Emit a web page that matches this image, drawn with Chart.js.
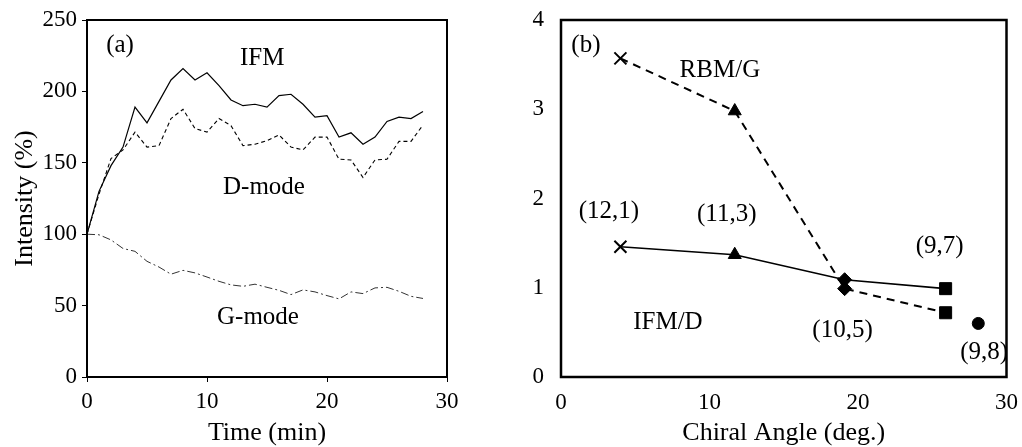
<!DOCTYPE html>
<html>
<head>
<meta charset="utf-8">
<script src="https://cdn.jsdelivr.net/npm/chart.js@4"></script>
<style>
  body { margin: 0; background: #fff; }
  #wrap { position: relative; width: 1022px; height: 447px; }
  canvas { position: absolute; top: 0; }
</style>
</head>
<body>
<div id="wrap">
  <canvas id="left" width="511" height="447" style="left:0"></canvas>
  <canvas id="right" width="511" height="447" style="left:511px"></canvas>
</div>
<script>
// panel (a): intensity vs time
const time = [0,1,2,3,4,5,6,7,8,9,10,11,12,13,14,15,16,17,18,19,20,21,22,23,24,25,26,27,28];
const ifm = [100,130,148,161,189,178,193,208,216,208,213,204,194,190,191,189,197,198,191,182,183,168,171,163,168,179,182,181,186];
const dMode = [100,128,153,159,171.5,161,162,181,187.5,174,171.5,181,176,162,163,165.5,169.5,161,159,168,168,152.5,152,139.7,152,152.5,165,165,176.5];
const gMode = [100,99.6,96,90,88,81,77,72,74.7,72.9,70,67,64.5,63.5,65,62.8,60.7,57.7,61,59.6,57,54.7,59.6,58.4,62.4,62.8,60,56.5,55];
const timeTicks = [0,10,20,30];
const intensityTicks = [0,50,100,150,200,250];

// panel (b): ratios vs chiral angle
const chiralAngle = [4.0,11.7,19.1,25.9];
const ifmD = [1.46,1.37,1.09,0.99];
const rbmG = [3.57,2.98,0.99,0.72];
const markers = ["crossRot","triangle","rectRot","rect"];
const extraAngle = [28.1];
const extraValue = [0.6];
const angleTicks = [0,10,20,30];
const ratioTicks = [0,1,2,3,4];

const notesA = [
  { text: "(a)", x: 2.75, y: 232 },
  { text: "IFM", x: 14.6, y: 223 },
  { text: "D-mode", x: 14.75, y: 133 },
  { text: "G-mode", x: 14.25, y: 41.6 },
];
const notesB = [
  { text: "(b)", x: 1.68, y: 3.72 },
  { text: "RBM/G", x: 10.7, y: 3.44 },
  { text: "(12,1)", x: 3.23, y: 1.85 },
  { text: "(11,3)", x: 11.16, y: 1.82 },
  { text: "IFM/D", x: 7.2, y: 0.61 },
  { text: "(9,7)", x: 25.5, y: 1.46 },
  { text: "(10,5)", x: 18.96, y: 0.52 },
  { text: "(9,8)", x: 28.5, y: 0.28 },
];

const FONT = "'Liberation Serif', 'Times New Roman', serif";
Chart.defaults.font.family = FONT;
Chart.defaults.color = "#000";

// draws frame around plot + text notes in data coords
const framePlugin = {
  id: "frame",
  afterDraw(chart, args, opts) {
    const { ctx, chartArea: a, scales } = chart;
    ctx.save();
    ctx.strokeStyle = "#000";
    ctx.lineWidth = opts.lineWidth || 2;
    ctx.strokeRect(a.left, a.top, a.right - a.left, a.bottom - a.top);
    ctx.fillStyle = "#000";
    ctx.font = "25px " + FONT;
    ctx.textAlign = "center";
    ctx.textBaseline = "middle";
    (opts.notes || []).forEach((n) => {
      ctx.fillText(n.text, scales.x.getPixelForValue(n.x), scales.y.getPixelForValue(n.y));
    });
    ctx.restore();
  },
};

function fixedTicks(values) {
  return (scale) => {
    scale.ticks = values.map((v) => ({ value: v }));
  };
}

const tickFont = { size: 23 };
const titleFont = { size: 26, lineHeight: 1 };

new Chart(document.getElementById("left"), {
  type: "scatter",
  data: {
    datasets: [
      {
        label: "IFM",
        data: time.map((t, i) => ({ x: t, y: ifm[i] })),
        showLine: true,
        borderColor: "#000",
        borderWidth: 1.2,
        pointRadius: 0,
      },
      {
        label: "D-mode",
        data: time.map((t, i) => ({ x: t, y: dMode[i] })),
        showLine: true,
        borderColor: "#000",
        borderWidth: 1.1,
        borderDash: [4, 3],
        pointRadius: 0,
      },
      {
        label: "G-mode",
        data: time.map((t, i) => ({ x: t, y: gMode[i] })),
        showLine: true,
        borderColor: "#333",
        borderWidth: 1,
        borderDash: [8, 3, 2, 3],
        pointRadius: 0,
      },
    ],
  },
  options: {
    responsive: false,
    animation: false,
    layout: { padding: { top: 20, right: 64, left: 0, bottom: 0 } },
    plugins: {
      legend: { display: false },
      tooltip: { enabled: false },
      frame: { notes: notesA, lineWidth: 2 },
    },
    scales: {
      x: {
        type: "linear",
        min: 0,
        max: 30,
        afterBuildTicks: fixedTicks(timeTicks),
        afterFit: (s) => { s.height = 70; },
        grid: { drawOnChartArea: false, drawTicks: true, tickLength: 5, color: "#000" },
        border: { display: false },
        ticks: { font: tickFont, padding: 6 },
        title: { display: true, text: "Time (min)", font: titleFont, padding: { top: 0, bottom: 1 } },
      },
      y: {
        min: 0,
        max: 250,
        afterBuildTicks: fixedTicks(intensityTicks),
        afterFit: (s) => { s.width = 87; },
        grid: { drawOnChartArea: false, drawTicks: true, tickLength: 5, color: "#000" },
        border: { display: false },
        ticks: { font: tickFont, padding: 5 },
        title: { display: true, text: "Intensity (%)", font: titleFont, padding: { top: 12, bottom: 0 } },
      },
    },
  },
  plugins: [framePlugin],
});

new Chart(document.getElementById("right"), {
  type: "scatter",
  data: {
    datasets: [
      {
        label: "IFM/D",
        data: chiralAngle.map((a, i) => ({ x: a, y: ifmD[i] })),
        showLine: true,
        borderColor: "#000",
        borderWidth: 1.6,
        pointStyle: markers,
        pointRadius: [8.5, 7.5, 7, 8.5],
        pointBackgroundColor: "#000",
        pointBorderColor: "#000",
        pointBorderWidth: [2, 1, 1, 1],
      },
      {
        label: "RBM/G",
        data: chiralAngle.map((a, i) => ({ x: a, y: rbmG[i] })),
        showLine: true,
        borderColor: "#000",
        borderWidth: 2,
        borderDash: [8, 6],
        pointStyle: markers,
        pointRadius: [8.5, 7.5, 7, 8.5],
        pointBackgroundColor: "#000",
        pointBorderColor: "#000",
        pointBorderWidth: [2, 1, 1, 1],
      },
      {
        label: "(9,8)",
        data: extraAngle.map((a, i) => ({ x: a, y: extraValue[i] })),
        showLine: false,
        pointStyle: "circle",
        pointRadius: 6,
        pointBackgroundColor: "#000",
        pointBorderColor: "#000",
      },
    ],
  },
  options: {
    responsive: false,
    animation: false,
    layout: { padding: { top: 20, right: 15, left: 0, bottom: 0 } },
    plugins: {
      legend: { display: false },
      tooltip: { enabled: false },
      frame: { notes: notesB, lineWidth: 2.5 },
    },
    scales: {
      x: {
        type: "linear",
        min: 0,
        max: 30,
        afterBuildTicks: fixedTicks(angleTicks),
        afterFit: (s) => { s.height = 70; },
        // invisible tick marks just to push the labels off the frame
        grid: { drawOnChartArea: false, drawTicks: true, tickLength: 8, color: "rgba(0,0,0,0)" },
        border: { display: false },
        ticks: { font: tickFont, padding: 4 },
        title: { display: true, text: "Chiral Angle (deg.)", font: titleFont, padding: { top: 0, bottom: 1 } },
      },
      y: {
        min: 0,
        max: 4,
        afterBuildTicks: fixedTicks(ratioTicks),
        afterFit: (s) => { s.width = 50; },
        grid: { drawOnChartArea: false, drawTicks: true, tickLength: 12, color: "rgba(0,0,0,0)" },
        border: { display: false },
        ticks: { font: tickFont, padding: 5 },
      },
    },
  },
  plugins: [framePlugin],
});
</script>
</body>
</html>
